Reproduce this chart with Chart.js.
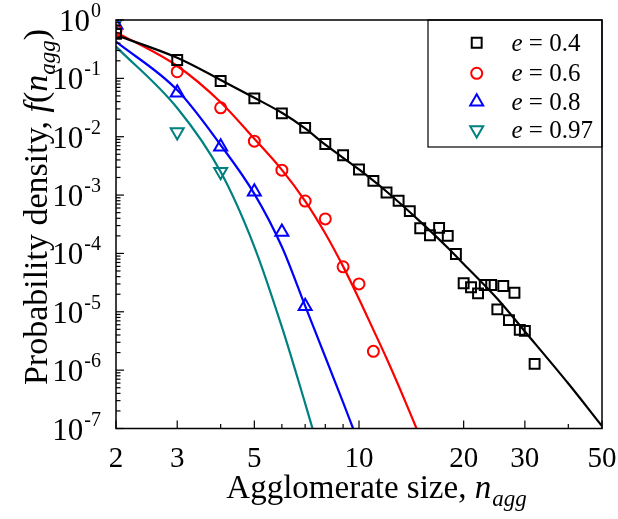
<!DOCTYPE html>
<html><head><meta charset="utf-8">
<script src="https://cdn.jsdelivr.net/npm/chart.js@4/dist/chart.umd.min.js"></script>
<style>html,body{margin:0;padding:0;background:#fff;}canvas{display:block;}</style>
</head><body>
<canvas id="c" width="618" height="519"></canvas>
<script>
// ---- measured points (agglomerate size n_agg, probability density) ----
const sizes04 = [2,3,4,5,6,7,8,9,10,11,12,13,14,15,16,17,18,19,20,21,22,23,24,25,26,27,28,29,30,32];
const dens04  = [0.58,0.206,0.09,0.0454,0.0251,0.0142,0.0075,0.0048,0.00275,0.00175,0.00111,8.0e-4,5.3e-4,2.7e-4,2.05e-4,2.74e-4,2.0e-4,9.8e-5,3.08e-5,2.63e-5,2.07e-5,2.88e-5,2.88e-5,1.1e-5,2.77e-5,7.2e-6,2.12e-5,4.9e-6,4.7e-6,1.28e-6];
const sizes06 = [2,3,4,5,6,7,8,9,10,11];
const dens06  = [0.66,0.130,0.0313,0.0084,0.00267,7.9e-4,3.9e-4,5.9e-5,3.0e-5,2.1e-6];
const sizes08 = [2,3,4,5,6,7];
const dens08  = [0.82,0.0566,0.0067,0.00114,2.34e-4,1.24e-5];
const sizes097 = [2,3,4];
const dens097  = [0.93,0.0121,0.0025];

// ---- fitted curves ----
const fitX04 = [2,3,4,5,6,7,8,10,12,15,18,20,25,30,40,50];
const fitY04 = [0.55,0.225,0.094,0.0465,0.0257,0.0139,0.0073,0.00275,0.00115,3.5e-4,1.25e-4,6.6e-5,1.67e-5,4.6e-6,5.9e-7,1.1e-7];
const fitX06 = [2,3,4,5,6,7,8,9,10,11,12,13,14.64];
const fitY06 = [0.62,0.163,0.039,0.0092,0.0027,7.9e-4,2.2e-4,6.0e-5,1.66e-5,4.9e-6,1.6e-6,5.4e-7,1e-7];
const fitX08 = [2,3,4,5,6,7,8,9,9.62];
const fitY08 = [0.425,0.063,0.0072,0.00105,1.3e-4,1.26e-5,1.68e-6,2.8e-7,1e-7];
const fitX097 = [2,3,4,5,6,7,7.35];
const fitY097 = [0.35,0.031,0.0025,1.3e-4,5.5e-6,2.7e-7,1e-7];

// ---- axes / legend text ----
const xTickValues = [2,3,4,5,6,7,8,9,10,20,30,40,50];
const xTickLabels = ['2','3','','5','','','','','10','20','30','','50'];
const yTickExponents = [0,-1,-2,-3,-4,-5,-6,-7];
const legendLabels = ['0.4','0.6','0.8','0.97'];
const seriesColors = ['#000000','#ff0000','#0000ff','#008080'];

const FONT = '"Liberation Serif","Times New Roman",serif';
const pts = (xs, ys) => xs.map((v,i)=>({x:v, y:ys[i]}));

const markerStyles = [
  {pointStyle:'rect', rotation:0, radius:7},
  {pointStyle:'circle', rotation:0, radius:5.5},
  {pointStyle:'triangle', rotation:0, radius:7.5},
  {pointStyle:'triangle', rotation:180, radius:7.5}
];

function fitSet(xs, ys, color){
  return {data:pts(xs,ys), showLine:true, borderColor:color, borderWidth:2.2,
    pointRadius:0, cubicInterpolationMode:'monotone', fill:false, clip:0, order:2};
}
function markSet(xs, ys, color, m){
  return {data:pts(xs,ys), showLine:false, borderColor:color, backgroundColor:'rgba(0,0,0,0)',
    pointStyle:m.pointStyle, rotation:m.rotation, pointRadius:m.radius, pointBorderWidth:2,
    clip:0, order:1};
}

function line(ctx,x1,y1,x2,y2){ctx.beginPath();ctx.moveTo(x1,y1);ctx.lineTo(x2,y2);ctx.stroke();}

const decor = {
  id:'decor',
  afterDraw(chart){
    const {ctx, chartArea:a, scales:{x,y}} = chart;
    ctx.save();
    ctx.strokeStyle='#000'; ctx.fillStyle='#000';
    ctx.lineWidth=1.5;
    ctx.strokeRect(a.left,a.top,a.right-a.left,a.bottom-a.top);
    ctx.lineWidth=1.2;
    // x ticks (inward)
    ctx.font = '29px '+FONT; ctx.textAlign='center'; ctx.textBaseline='alphabetic';
    xTickValues.forEach((v,i)=>{
      const px = x.getPixelForValue(v);
      const len = xTickLabels[i] ? 8 : 4.5;
      line(ctx,px,a.bottom,px,a.bottom-len);
      if (xTickLabels[i]) ctx.fillText(xTickLabels[i], px, a.bottom+38);
    });
    // y ticks (inward)
    yTickExponents.forEach(e=>{
      const py = y.getPixelForValue(Math.pow(10,e));
      line(ctx,a.left,py,a.left+8,py);
      if (e<0) for (let m=2;m<=9;m++){
        const pm = y.getPixelForValue(m*Math.pow(10,e));
        line(ctx,a.left,pm,a.left+4.5,pm);
      }
      // label 10^e
      ctx.textAlign='left';
      ctx.font='31px '+FONT;
      const w10 = ctx.measureText('10').width;
      ctx.font='20px '+FONT;
      const we = ctx.measureText(String(e)).width;
      const sx = a.left - 16 - w10 - we;
      ctx.font='31px '+FONT;
      ctx.fillText('10', sx, py+11);
      ctx.font='20px '+FONT;
      ctx.fillText(String(e), sx+w10+1, py-3);
    });
    // x title
    ctx.textAlign='left';
    const t1='Agglomerate size, ';
    ctx.font='33px '+FONT; const w1=ctx.measureText(t1).width;
    ctx.font='italic 33px '+FONT; const w2=ctx.measureText('n').width;
    ctx.font='italic 23px '+FONT; const w3=ctx.measureText('agg').width;
    let sx = 376 - (w1+w2+w3)/2, by = 498;
    ctx.font='33px '+FONT; ctx.fillText(t1,sx,by);
    ctx.font='italic 33px '+FONT; ctx.fillText('n',sx+w1,by);
    ctx.font='italic 23px '+FONT; ctx.fillText('agg',sx+w1+w2+1,by+8);
    // y title (rotated)
    ctx.save();
    ctx.translate(47, 207);
    ctx.rotate(-Math.PI/2);
    const parts=[['Probability density, ','34px',0],['f','italic 34px',0],['(','34px',0],['n','italic 34px',0],['agg','italic 23px',8],[')','34px',0]];
    let tw=0; parts.forEach(p=>{ctx.font=p[1]+' '+FONT; p.w=ctx.measureText(p[0]).width; tw+=p.w;});
    let cx=-tw/2;
    parts.forEach(p=>{ctx.font=p[1]+' '+FONT; ctx.fillText(p[0],cx,p[2]); cx+=p.w;});
    ctx.restore();
    // legend
    ctx.lineWidth=1.2;
    ctx.strokeRect(428, a.top, a.right-428, 147-a.top);
    const rowsY=[42.7,73.3,101.7,130];
    legendLabels.forEach((lab,i)=>{
      const m=markerStyles[i];
      ctx.strokeStyle=seriesColors[i]; ctx.fillStyle='rgba(0,0,0,0)'; ctx.lineWidth=2;
      Chart.helpers.drawPoint(ctx,{pointStyle:m.pointStyle,rotation:m.rotation,radius:m.radius,borderWidth:2},476.7,rowsY[i]);
      ctx.fillStyle='#000';
      ctx.font='italic 25px '+FONT; ctx.fillText('e',511.5,rowsY[i]+8);
      const we=ctx.measureText('e').width;
      ctx.font='25px '+FONT; ctx.fillText(' = '+lab,511.5+we,rowsY[i]+8);
    });
    ctx.restore();
  }
};

new Chart(document.getElementById('c'), {
  type:'scatter',
  data:{datasets:[
    fitSet(fitX04,fitY04,seriesColors[0]),
    fitSet(fitX06,fitY06,seriesColors[1]),
    fitSet(fitX08,fitY08,seriesColors[2]),
    fitSet(fitX097,fitY097,seriesColors[3]),
    markSet(sizes04,dens04,seriesColors[0],markerStyles[0]),
    markSet(sizes06,dens06,seriesColors[1],markerStyles[1]),
    markSet(sizes08,dens08,seriesColors[2],markerStyles[2]),
    markSet(sizes097,dens097,seriesColors[3],markerStyles[3])
  ]},
  options:{
    responsive:false, animation:false, devicePixelRatio:1,
    layout:{padding:{left:0,top:20,right:16,bottom:0}},
    plugins:{legend:{display:false},tooltip:{enabled:false}},
    scales:{
      x:{type:'logarithmic',min:2,max:50,ticks:{display:false},grid:{display:false},border:{display:false},
         afterFit:(s)=>{s.height=90.5;}},
      y:{type:'logarithmic',min:1e-7,max:1,ticks:{display:false},grid:{display:false},border:{display:false},
         afterFit:(s)=>{s.width=116;}}
    }
  },
  plugins:[decor]
});
</script>
</body></html>
